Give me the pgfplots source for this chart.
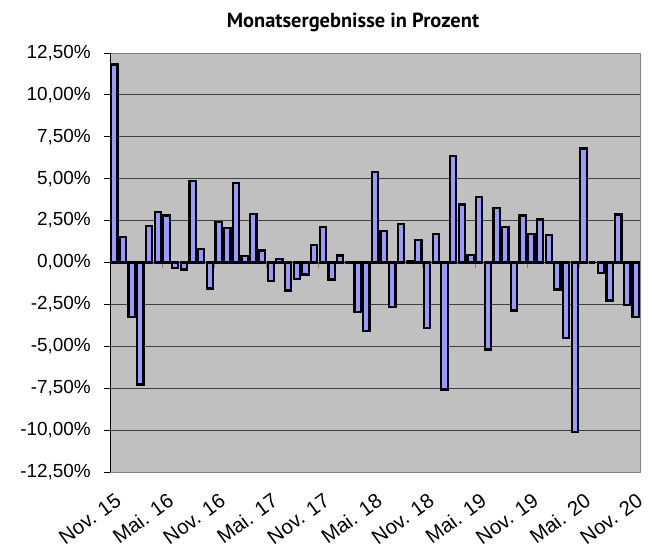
\documentclass[border=0pt]{standalone}
\usepackage{fontspec}
\setmainfont{Liberation Sans}
\newfontfamily\titlefont{PT Sans}
\usepackage{pgfplots}
\pgfplotsset{compat=1.18}
\definecolor{bgray}{HTML}{C0C0C0}
\definecolor{barfill}{HTML}{9999FF}
\begin{document}
\begin{tikzpicture}
\useasboundingbox (0,0) rectangle (653bp,548bp);
\node[font=\titlefont\bfseries\fontsize{20.5}{24}\selectfont] at (353bp,526bp) {Monatsergebnisse in Prozent};
\begin{axis}[
  at={(110bp,76bp)}, anchor=south west,
  scale only axis, width=530bp, height=419bp,
  xmin=-0.5, xmax=60.5, ymin=-12.5, ymax=12.5,
  axis background/.style={fill=bgray},
  axis line style={draw=gray, line width=0.8bp},
  ybar, bar width=0.72,
  ytick={-12.5,-10,-7.5,-5,-2.5,0,2.5,5,7.5,10,12.5},
  yticklabels={-12{,}50\%,-10{,}00\%,-7{,}50\%,-5{,}00\%,-2{,}50\%,0{,}00\%,2{,}50\%,5{,}00\%,7{,}50\%,10{,}00\%,12{,}50\%},
  ytick pos=left, tick align=outside, major tick length=6bp,
  ytick style={draw=black, line width=0.8bp},
  ymajorgrids, grid style={draw=black!75, line width=0.9bp},
  xtick={0,6,...,60},
  xticklabels={Nov. 15,Mai. 16,Nov. 16,Mai. 17,Nov. 17,Mai. 18,Nov. 18,Mai. 19,Nov. 19,Mai. 20,Nov. 20},
  xtick style={draw=none},
  xticklabel shift=14bp,
  xticklabel style={font=\fontsize{20.5}{22}\selectfont, rotate=36, anchor=north east, inner sep=0bp},
  yticklabel style={font=\fontsize{19}{22}\selectfont, inner sep=0pt, anchor=east, xshift=-13bp},
]
\pgfplotsinvokeforeach{1,...,9}{
  \draw[gray, line width=0.8bp] (axis cs:{6*#1-0.5},0) -- (axis cs:{6*#1-0.5},-0.3);
}
\draw[black, line width=1.6bp] (axis cs:-0.5,0) -- (axis cs:60.5,0);
\addplot[fill=barfill, draw=black, line width=2.2bp] coordinates {
(0,11.81) (1,1.51) (2,-3.26) (3,-7.28) (4,2.17) (5,3.00) (6,2.80) (7,-0.32) (8,-0.42) (9,4.85)
(10,0.82) (11,-1.55) (12,2.40) (13,2.05) (14,4.75) (15,0.38) (16,2.90) (17,0.72) (18,-1.11) (19,0.22)
(20,-1.67) (21,-0.97) (22,-0.72) (23,1.03) (24,2.10) (25,-1.01) (26,0.42) (27,0.05) (28,-2.94) (29,-4.10)
(30,5.41) (31,1.87) (32,-2.67) (33,2.31) (34,0.08) (35,1.33) (36,-3.90) (37,1.71) (38,-7.58) (39,6.34)
(40,3.46) (41,0.44) (42,3.90) (43,-5.19) (44,3.26) (45,2.11) (46,-2.86) (47,2.80) (48,1.71) (49,2.57)
(50,1.65) (51,-1.61) (52,-4.49) (53,-10.12) (54,6.80) (55,0.00) (56,-0.62) (57,-2.27) (58,2.86) (59,-2.55)
(60,-3.26)
};
\draw[black, line width=1.3bp] (rel axis cs:0,0) -- (rel axis cs:0,1);
\end{axis}
\end{tikzpicture}
\end{document}
